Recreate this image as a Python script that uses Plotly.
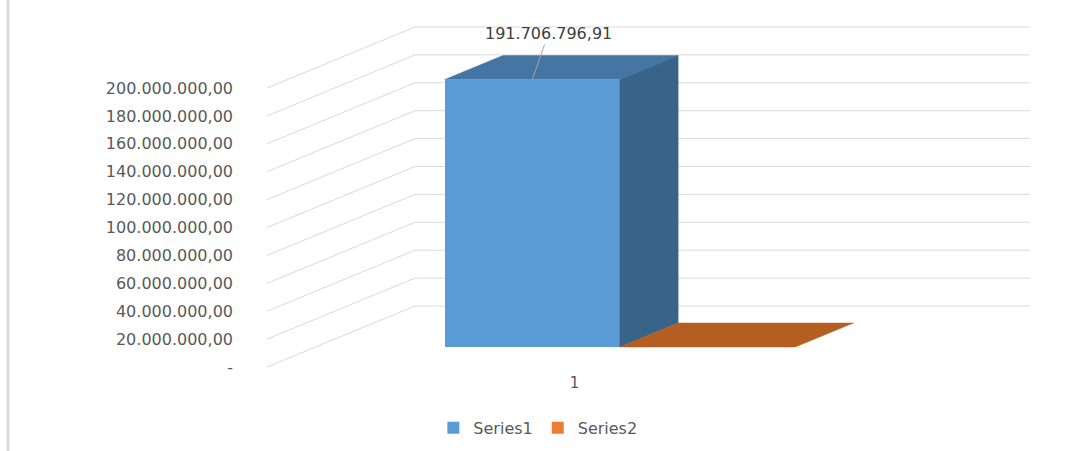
import plotly.graph_objects as go

# ---------------- data ----------------
categories = ["1"]
series_names = ["Series1", "Series2"]
series1_values = [191706796.91]
series2_values = [0.0]
y_tick_values = [0, 20e6, 40e6, 60e6, 80e6, 100e6, 120e6, 140e6, 160e6, 180e6, 200e6]

# ---------------- styling / geometry ----------------
FRONT_COLORS = ["#5B9BD5", "#ED7D31"]
TOP_COLORS = ["#4576A3", "#B45E22"]
SIDE_COLORS = ["#386489", "#8F4A1B"]
GRID_COLOR = "#D9D9D9"
TEXT_COLOR = "#595959"
FONT = "DejaVu Sans"

DX = 0.2407          # horizontal shift (x units) for full floor depth
DV = 43.73e6         # vertical shift (value units) for full floor depth
D_FRONT = 0.328      # depth of bar front faces
D_BACK = 0.721       # depth of bar back faces
BAR_W = 0.285
CAT_POS = [0.495]
Y_RANGE = [-3.58e6, 248.75e6]


def fmt(v):
    if v == 0:
        return "-"
    s = f"{v:,.2f}"
    return s.replace(",", "X").replace(".", ",").replace("X", ".")


fig = go.Figure()

# slanted floor/wall gridlines (shapes in data coordinates, below traces)
for v in y_tick_values:
    fig.add_shape(type="path", xref="x", yref="y", layer="below",
                  path=f"M 0,{v} L {DX},{v + DV} L {1 + DX},{v + DV}",
                  line=dict(color=GRID_COLOR, width=1))

all_series = [series1_values, series2_values]
for si, (name, vals) in enumerate(zip(series_names, all_series)):
    for ci, v in enumerate(vals):
        xa = CAT_POS[ci] - BAR_W + si * BAR_W
        xb = xa + BAR_W
        # front face (bar trace through the axes)
        fig.add_trace(go.Bar(
            x=[(xa + xb) / 2 + D_FRONT * DX], y=[v], base=[D_FRONT * DV],
            width=[BAR_W], name=name, marker=dict(color=FRONT_COLORS[si], line=dict(width=0)),
            showlegend=(ci == 0), legendgroup=name))
        # top face
        fig.add_trace(go.Scatter(
            x=[xa + D_FRONT * DX, xb + D_FRONT * DX, xb + D_BACK * DX, xa + D_BACK * DX, xa + D_FRONT * DX],
            y=[v + D_FRONT * DV, v + D_FRONT * DV, v + D_BACK * DV, v + D_BACK * DV, v + D_FRONT * DV],
            fill="toself", fillcolor=TOP_COLORS[si], mode="lines",
            line=dict(color=TOP_COLORS[si], width=0.5), hoverinfo="skip",
            showlegend=False, legendgroup=name))
        # side face
        if v > 0:
            fig.add_trace(go.Scatter(
                x=[xb + D_FRONT * DX, xb + D_BACK * DX, xb + D_BACK * DX, xb + D_FRONT * DX, xb + D_FRONT * DX],
                y=[D_FRONT * DV, D_BACK * DV, v + D_BACK * DV, v + D_FRONT * DV, D_FRONT * DV],
                fill="toself", fillcolor=SIDE_COLORS[si], mode="lines",
                line=dict(color=SIDE_COLORS[si], width=0.5), hoverinfo="skip",
                showlegend=False, legendgroup=name))

# data label for Series1
xa0 = CAT_POS[0] - BAR_W
fig.add_annotation(
    x=xa0 + BAR_W / 2 + D_FRONT * DX, y=series1_values[0] + D_FRONT * DV,
    text=fmt(series1_values[0]), showarrow=True, arrowhead=0, arrowwidth=1,
    arrowcolor="#A6A6A6", ax=16, ay=-46, standoff=0,
    font=dict(family=FONT, size=16, color="#404040"))

fig.add_shape(type="line", xref="paper", yref="paper",
              x0=-0.3394, x1=-0.3394, y0=-0.25, y1=1.1,
              line=dict(color="#D9D9D9", width=3))

fig.update_layout(
    width=1065, height=451, autosize=False,
    margin=dict(l=267, r=35, t=20, b=79, autoexpand=False),
    paper_bgcolor="white", plot_bgcolor="white",
    barmode="overlay", bargap=0,
    font=dict(family=FONT, color=TEXT_COLOR),
    xaxis=dict(range=[0, 1 + DX], showgrid=False, zeroline=False, showline=False,
               tickvals=[CAT_POS[0] + 0.005], ticktext=categories, ticks="",
               tickfont=dict(size=15, color=TEXT_COLOR), fixedrange=True),
    yaxis=dict(range=Y_RANGE, showgrid=False, zeroline=False, showline=False,
               tickvals=y_tick_values, ticktext=[fmt(v) for v in y_tick_values],
               ticks="", ticklabelstandoff=33,
               tickfont=dict(size=16, color=TEXT_COLOR), fixedrange=True),
    legend=dict(orientation="h", x=0.355, xanchor="center", y=-0.159, yanchor="middle",
                font=dict(size=16, color=TEXT_COLOR), traceorder="normal"),
    showlegend=True,
)

fig.write_html("out.html", config={"displayModeBar": False},
               post_script="document.body.style.margin='0';")
